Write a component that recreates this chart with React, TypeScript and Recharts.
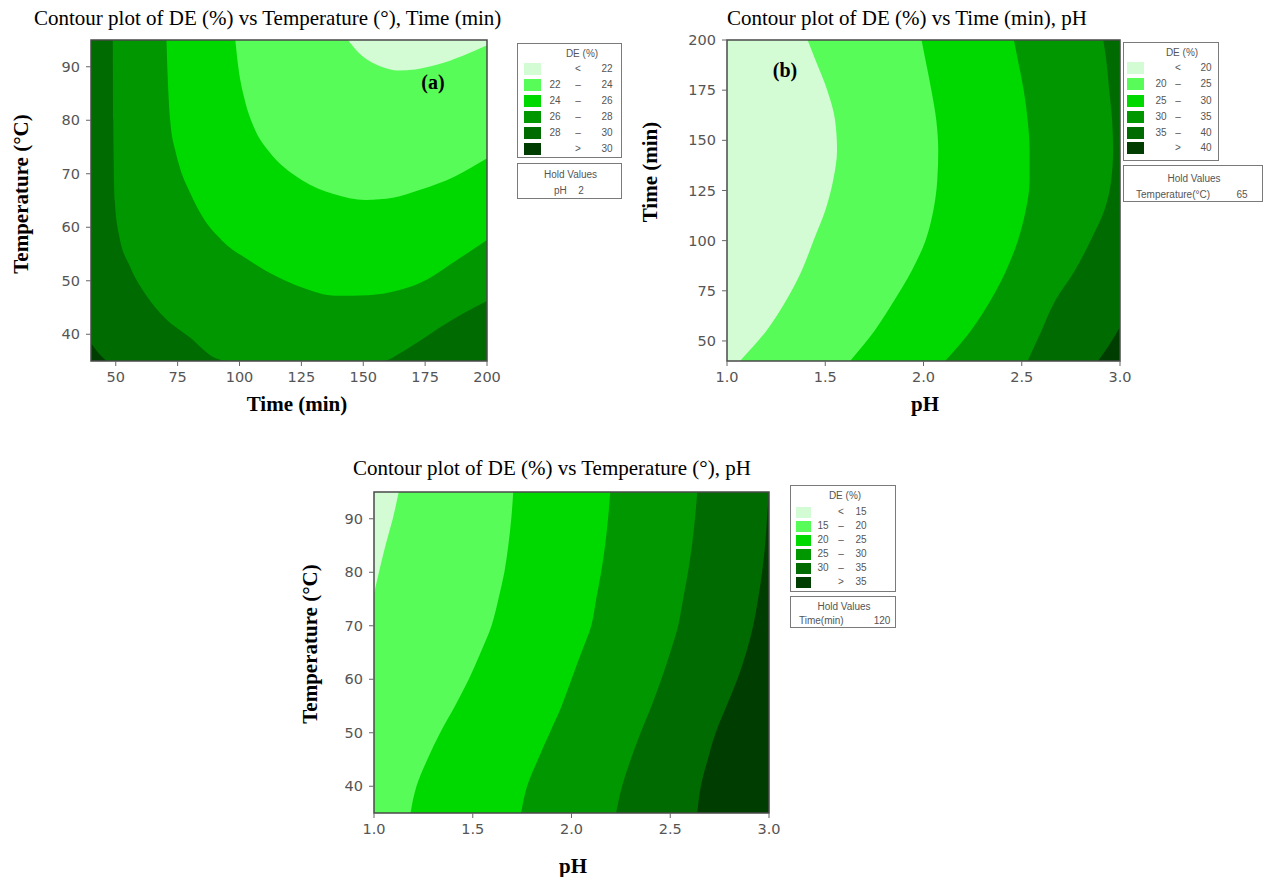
import { ComposedChart, Area, XAxis, YAxis, CartesianGrid, ReferenceArea } from "recharts";

// contour fill colours, lightest band first
const greens = ["#d4fcd4", "#58fc58", "#00d900", "#009700", "#006b00", "#003d00"];

const timeTicks = [50, 75, 100, 125, 150, 175, 200];
const timeTicksB = [50, 75, 100, 125, 150, 175, 200];
const tempTicks = [40, 50, 60, 70, 80, 90];
const phTicks = [1.0, 1.5, 2.0, 2.5, 3.0];

// (a) DE vs Temperature, Time (pH held at 2)
const levelsA = [22, 24, 26, 28, 30];
const contourA22 = [
  { time: 143.8, temp: 95 }, { time: 147, temp: 93.2 }, { time: 152, temp: 91.2 }, { time: 158, temp: 89.9 },
  { time: 164, temp: 89.3 }, { time: 171, temp: 89.5 }, { time: 180, temp: 90.4 }, { time: 190, temp: 92 },
  { time: 200, temp: 94 },
];
const contourA24 = [
  { time: 98.3, temp: 95 }, { time: 99.5, temp: 90 }, { time: 102, temp: 84 }, { time: 106, temp: 78.5 },
  { time: 111.5, temp: 74.4 }, { time: 118, temp: 71.2 }, { time: 125.3, temp: 68.8 }, { time: 138, temp: 66.2 },
  { time: 151, temp: 65.1 }, { time: 162, temp: 65.5 }, { time: 173, temp: 67 }, { time: 187, temp: 69.5 },
  { time: 200, temp: 72.9 },
];
const contourA26 = [
  { time: 70.5, temp: 95 }, { time: 71, temp: 88 }, { time: 72, temp: 80 }, { time: 74, temp: 74.5 },
  { time: 76, temp: 71 }, { time: 80, temp: 66.5 }, { time: 85, temp: 62 }, { time: 93, temp: 57.5 },
  { time: 104, temp: 53.8 }, { time: 115, temp: 50.8 }, { time: 125, temp: 48.8 }, { time: 139, temp: 47.2 },
  { time: 152, temp: 47.3 }, { time: 165, temp: 48.3 }, { time: 176, temp: 50.3 }, { time: 186, temp: 53.3 },
  { time: 200, temp: 57.6 },
];
const contourA28 = [
  { time: 48.8, temp: 95 }, { time: 49, temp: 80 }, { time: 49.6, temp: 65 }, { time: 51.2, temp: 58.9 },
  { time: 55.8, temp: 52.6 }, { time: 62, temp: 47.5 }, { time: 70, temp: 43 }, { time: 80, temp: 39.4 },
  { time: 90, temp: 35.6 }, { time: 96, temp: 35 }, { time: 158, temp: 35 }, { time: 165, temp: 36.5 },
  { time: 172, temp: 38.5 }, { time: 180, temp: 41 }, { time: 190, temp: 43.8 }, { time: 200, temp: 46.2 },
];
const contourA30 = [{ time: 40, temp: 38.3 }, { time: 43, temp: 36.5 }, { time: 46.3, temp: 35 }];

// (b) DE vs Time, pH (Temperature held at 65)
const levelsB = [20, 25, 30, 35, 40];
const timesB = [40, 55, 70, 85, 100, 115, 130, 145, 160, 175, 190, 200];
const phB20 = [1.066, 1.2, 1.3, 1.38, 1.44, 1.5, 1.54, 1.56, 1.55, 1.51, 1.45, 1.41];
const phB25 = [1.626, 1.75, 1.85, 1.94, 2.01, 2.05, 2.07, 2.075, 2.065, 2.04, 2.01, 1.99];
const phB30 = [2.11, 2.24, 2.34, 2.42, 2.48, 2.52, 2.54, 2.54, 2.53, 2.51, 2.48, 2.46];
const phB35 = [2.53, 2.6, 2.67, 2.77, 2.85, 2.92, 2.955, 2.965, 2.96, 2.945, 2.93, 2.915];
const contourB40 = [{ time: 40, ph: 2.888 }, { time: 48, ph: 2.945 }, { time: 57, ph: 3.0 }];

// (c) DE vs Temperature, pH (Time held at 120)
const levelsC = [15, 20, 25, 30, 35];
const tempsC = [35, 40, 45, 50, 55, 60, 65, 70, 75, 80, 85, 90, 95];
const phC20 = [1.185, 1.215, 1.27, 1.335, 1.41, 1.48, 1.54, 1.595, 1.63, 1.66, 1.68, 1.695, 1.705];
const phC25 = [1.745, 1.775, 1.83, 1.89, 1.95, 2.0, 2.05, 2.1, 2.125, 2.15, 2.17, 2.185, 2.196];
const phC30 = [2.226, 2.256, 2.3, 2.35, 2.405, 2.455, 2.5, 2.54, 2.565, 2.59, 2.61, 2.625, 2.637];
const phC35 = [2.637, 2.655, 2.69, 2.73, 2.785, 2.84, 2.885, 2.92, 2.945, 2.965, 2.98, 2.99, 3.0];
const contourC15 = [{ temp: 76, ph: 1.0 }, { temp: 80, ph: 1.025 }, { temp: 85, ph: 1.058 }, { temp: 90, ph: 1.095 }, { temp: 95, ph: 1.125 }];

const zip = (key: string, ys: number[], xs: number[]) => ys.map((y, i) => ({ [key]: y, ph: xs[i] }));

const tickStyle = { fill: "#555", fontSize: 14.5, fontFamily: "DejaVu Sans" };
const serif = "'Liberation Serif', 'Times New Roman', serif";
const sans = "'Liberation Sans', Arial, sans-serif";

type Band = { data: any[]; fill: string; base: number };

function ContourPanel(props: {
  left: number; top: number; width: number; yAxisWidth: number; right: number; vertical: boolean;
  xDomain: number[]; xTicks: number[]; xKey?: string; yDomain: number[]; yTicks: number[]; yKey?: string;
  valueKey: string; background: string; bands: Band[]; phAxis?: boolean;
}) {
  const { vertical } = props;
  return (
    <div style={{ position: "absolute", left: props.left, top: props.top }}>
      <ComposedChart width={props.width} height={400} layout={vertical ? "vertical" : "horizontal"}
        margin={{ top: 40, right: props.right, bottom: 9, left: 0 }}>
        <CartesianGrid horizontal={false} vertical={false} fill={props.background} stroke="none" />
        <XAxis type="number" dataKey={vertical ? undefined : props.xKey} domain={props.xDomain} ticks={props.xTicks}
          allowDataOverflow interval={0} axisLine={false} tickLine={{ stroke: "#666" }} tickSize={5} tickMargin={6}
          tick={tickStyle} tickFormatter={(v: number) => (props.phAxis ? v.toFixed(1) : String(v))} />
        <YAxis type="number" dataKey={vertical ? props.yKey : undefined} domain={props.yDomain} ticks={props.yTicks}
          reversed={vertical} allowDataOverflow interval={0} width={props.yAxisWidth} axisLine={false}
          tickLine={{ stroke: "#666" }} tickSize={5} tickMargin={6} tick={tickStyle} />
        {props.bands.map((b, i) => (
          <Area key={i} data={b.data} dataKey={props.valueKey} type="monotone" baseValue={b.base}
            fill={b.fill} fillOpacity={1} stroke="none" dot={false} activeDot={false} isAnimationActive={false} />
        ))}
        <ReferenceArea x1={props.xDomain[0]} x2={props.xDomain[1]} y1={props.yDomain[0]} y2={props.yDomain[1]}
          fill="none" stroke="#4a4a4a" strokeWidth={1.5} />
      </ComposedChart>
    </div>
  );
}

function Txt({ x, y, children, size = 21, bold = false, start = false, rotate = false, family = serif, color = "#000" }: any) {
  return (
    <div style={{
      position: "absolute", left: x, top: y, whiteSpace: "nowrap", lineHeight: 1, fontSize: size,
      fontFamily: family, fontWeight: bold ? 700 : 400, color,
      transform: `translate(${start ? "0" : "-50%"}, -50%)${rotate ? " rotate(-90deg)" : ""}`,
    }}>{children}</div>
  );
}

function legendRows(levels: number[]) {
  const rows = [["", "<", String(levels[0])]];
  for (let i = 0; i < levels.length - 1; i++) rows.push([String(levels[i]), "–", String(levels[i + 1])]);
  rows.push(["", ">", String(levels[levels.length - 1])]);
  return rows;
}

function LegendBox({ x, y, w, h, levels, rowY, sw, cols }: any) {
  return (
    <div style={{ position: "absolute", left: x, top: y, width: w, height: h, border: "1px solid #7a7a7a", boxSizing: "border-box", background: "#fff" }}>
      <Txt x={cols[1] + 4} y={10} size={10} family={sans} color="#555">DE (%)</Txt>
      {legendRows(levels).map((r, i) => (
        <div key={i}>
          <div style={{ position: "absolute", left: sw.x, top: rowY[i] - sw.h / 2, width: sw.w, height: sw.h, background: greens[i] }} />
          <Txt x={cols[0]} y={rowY[i]} size={10} family={sans} color="#555">{r[0]}</Txt>
          <Txt x={cols[1]} y={rowY[i]} size={10} family={sans} color="#555">{r[1]}</Txt>
          <Txt x={cols[2]} y={rowY[i]} size={10} family={sans} color="#555">{r[2]}</Txt>
        </div>
      ))}
    </div>
  );
}

function HoldBox({ x, y, w, h, name, value, nameX, valueX, row1, row2 }: any) {
  return (
    <div style={{ position: "absolute", left: x, top: y, width: w, height: h, border: "1px solid #7a7a7a", boxSizing: "border-box", background: "#fff" }}>
      <Txt x={w / 2} y={row1} size={10} family={sans} color="#555">Hold Values</Txt>
      <Txt x={nameX} y={row2} size={10} family={sans} color="#555" start>{name}</Txt>
      <Txt x={valueX} y={row2} size={10} family={sans} color="#555">{value}</Txt>
    </div>
  );
}

export default function App() {
  const bandsA: Band[] = [
    { data: contourA30, fill: greens[5], base: 35 },
    { data: contourA28, fill: greens[3], base: 95 },
    { data: contourA26, fill: greens[2], base: 95 },
    { data: contourA24, fill: greens[1], base: 95 },
    { data: contourA22, fill: greens[0], base: 95 },
  ];
  const bandsB: Band[] = [
    { data: contourB40, fill: greens[5], base: 3 },
    { data: zip("time", timesB, phB35), fill: greens[3], base: 1 },
    { data: zip("time", timesB, phB30), fill: greens[2], base: 1 },
    { data: zip("time", timesB, phB25), fill: greens[1], base: 1 },
    { data: zip("time", timesB, phB20), fill: greens[0], base: 1 },
  ];
  const bandsC: Band[] = [
    { data: zip("temp", tempsC, phC35), fill: greens[4], base: 1 },
    { data: zip("temp", tempsC, phC30), fill: greens[3], base: 1 },
    { data: zip("temp", tempsC, phC25), fill: greens[2], base: 1 },
    { data: zip("temp", tempsC, phC20), fill: greens[1], base: 1 },
    { data: contourC15, fill: greens[0], base: 1 },
  ];

  return (
    <div style={{ position: "absolute", left: 0, top: 0, width: 1266, height: 877, background: "#fff", overflow: "hidden" }}>
      <ContourPanel left={0} top={0} width={520} yAxisWidth={91} right={33} vertical={false}
        xDomain={[40, 200]} xTicks={timeTicks} xKey="time" yDomain={[35, 95]} yTicks={tempTicks}
        valueKey="temp" background={greens[4]} bands={bandsA} />
      <ContourPanel left={640} top={0} width={520} yAxisWidth={87} right={40} vertical
        xDomain={[1, 3]} xTicks={phTicks} yDomain={[40, 200]} yTicks={timeTicksB} yKey="time"
        valueKey="ph" background={greens[4]} bands={bandsB} phAxis />
      <ContourPanel left={290} top={452} width={510} yAxisWidth={84} right={31} vertical
        xDomain={[1, 3]} xTicks={phTicks} yDomain={[35, 95]} yTicks={tempTicks} yKey="temp"
        valueKey="ph" background={greens[5]} bands={bandsC} phAxis />

      <Txt x={34} y={18} start>Contour plot of DE (%) vs Temperature (°), Time (min)</Txt>
      <Txt x={727} y={18} start>Contour plot of DE (%) vs Time (min), pH</Txt>
      <Txt x={353} y={468} start>Contour plot of DE (%) vs Temperature (°), pH</Txt>

      <Txt x={21} y={194} bold rotate>Temperature (°C)</Txt>
      <Txt x={297} y={404} bold>Time (min)</Txt>
      <Txt x={650} y={172} bold rotate>Time (min)</Txt>
      <Txt x={925} y={404} bold>pH</Txt>
      <Txt x={310} y={644} bold rotate>Temperature (°C)</Txt>
      <Txt x={573} y={866} bold>pH</Txt>

      <Txt x={433} y={82} size={20} bold>(a)</Txt>
      <Txt x={785} y={70} size={20} bold>(b)</Txt>

      <LegendBox x={517} y={43} w={105} h={115} levels={levelsA} rowY={[25, 41, 57, 73, 89, 105]}
        sw={{ x: 6, w: 17, h: 12 }} cols={[37, 60, 89]} />
      <HoldBox x={517} y={163} w={105} h={36} name="pH" value="2" nameX={36} valueX={63} row1={11} row2={27} />

      <LegendBox x={1123} y={42} w={96} h={119} levels={levelsB} rowY={[25, 41, 58, 74, 90, 105]}
        sw={{ x: 3, w: 17, h: 12 }} cols={[37, 54, 82]} />
      <HoldBox x={1123} y={165} w={140} h={37} name="Temperature(°C)" value="65" nameX={12} valueX={118} row1={13} row2={29} />

      <LegendBox x={790} y={485} w={106} h={107} levels={levelsC} rowY={[26, 40, 54, 68, 82, 96]}
        sw={{ x: 5, w: 15, h: 11 }} cols={[32, 50, 70]} />
      <HoldBox x={790} y={596} w={106} h={32} name="Time(min)" value="120" nameX={8} valueX={91} row1={10} row2={24} />
    </div>
  );
}
